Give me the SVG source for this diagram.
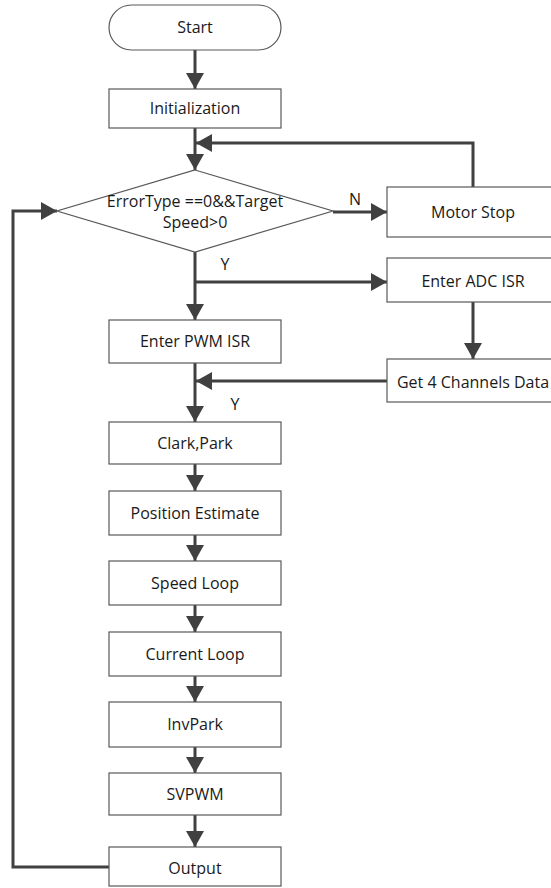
<svg xmlns="http://www.w3.org/2000/svg" width="551" height="888" viewBox="0 0 551 888">
<style>
.box{fill:#fff;stroke:#595959;stroke-width:1.2}
.t{font-family:"Open Sans","DejaVu Sans",sans-serif;font-size:16px;fill:#1a1a1a;text-anchor:middle;dominant-baseline:central}
.c{fill:none;stroke:#404040;stroke-width:3}
.a{marker-end:url(#ah)}
.lbl{font-family:"Open Sans","DejaVu Sans",sans-serif;font-size:16px;fill:#1a1a1a;text-anchor:middle}
</style>
<defs>
<marker id="ah" markerUnits="userSpaceOnUse" markerWidth="16" markerHeight="18" refX="16" refY="9" orient="auto">
<path d="M0,0 L16,9 L0,18 z" fill="#404040"/>
</marker>
</defs>
<rect width="551" height="888" fill="#fff"/>
<g id="connectors">
<line class="c a" x1="195" y1="50" x2="195" y2="89"/>
<line class="c a" x1="195" y1="128" x2="195" y2="170"/>
<polyline class="c a" points="473,187 473,143 196,143"/>
<line class="c a" x1="333" y1="212" x2="387" y2="212"/>
<line class="c" x1="195" y1="252" x2="195" y2="282"/>
<line class="c a" x1="195" y1="282" x2="387" y2="282"/>
<line class="c a" x1="195" y1="282" x2="195" y2="320"/>
<line class="c a" x1="473" y1="302" x2="473" y2="359"/>
<line class="c a" x1="387" y1="381" x2="196" y2="381"/>
<line class="c a" x1="195" y1="363" x2="195" y2="422"/>
<line class="c a" x1="195" y1="464" x2="195" y2="491"/>
<line class="c a" x1="195" y1="535" x2="195" y2="561"/>
<line class="c a" x1="195" y1="605" x2="195" y2="632"/>
<line class="c a" x1="195" y1="676" x2="195" y2="702"/>
<line class="c a" x1="195" y1="747" x2="195" y2="773"/>
<line class="c a" x1="195" y1="815" x2="195" y2="847"/>
<polyline class="c a" points="109,867 13,867 13,211 57,211"/>
<text class="lbl" x="355" y="205">N</text>
<text class="lbl" x="225" y="270">Y</text>
<text class="lbl" x="235" y="410">Y</text>
</g>
<g id="start"><rect class="box" x="109" y="5" width="172" height="45" rx="22.5"/><text class="t" x="195" y="27">Start</text></g>
<g id="init"><rect class="box" x="109" y="89" width="172" height="39"/><text class="t" x="195" y="108">Initialization</text></g>
<g id="decision"><polygon class="box" points="195,170 333,211 195,252 57,211"/><text class="t" x="195" y="201">ErrorType ==0&amp;&amp;Target</text><text class="t" x="195" y="222">Speed&gt;0</text></g>
<g id="motorstop"><rect class="box" x="387" y="187" width="173" height="50"/><text class="t" x="473" y="212">Motor Stop</text></g>
<g id="adc"><rect class="box" x="387" y="258" width="173" height="44"/><text class="t" x="473" y="281">Enter ADC ISR</text></g>
<g id="get4"><rect class="box" x="387" y="359" width="173" height="43"/><text class="t" x="473" y="382">Get 4 Channels Data</text></g>
<g id="pwm"><rect class="box" x="109" y="320" width="172" height="43"/><text class="t" x="195" y="341">Enter PWM ISR</text></g>
<g id="clark"><rect class="box" x="109" y="422" width="172" height="42"/><text class="t" x="195" y="443">Clark,Park</text></g>
<g id="pos"><rect class="box" x="109" y="491" width="172" height="44"/><text class="t" x="195" y="513">Position Estimate</text></g>
<g id="speed"><rect class="box" x="109" y="561" width="172" height="44"/><text class="t" x="195" y="583">Speed Loop</text></g>
<g id="current"><rect class="box" x="109" y="632" width="172" height="44"/><text class="t" x="195" y="654">Current Loop</text></g>
<g id="invpark"><rect class="box" x="109" y="702" width="172" height="45"/><text class="t" x="195" y="724">InvPark</text></g>
<g id="svpwm"><rect class="box" x="109" y="773" width="172" height="42"/><text class="t" x="195" y="794">SVPWM</text></g>
<g id="output"><rect class="box" x="109" y="847" width="172" height="39"/><text class="t" x="195" y="868">Output</text></g>
</svg>
